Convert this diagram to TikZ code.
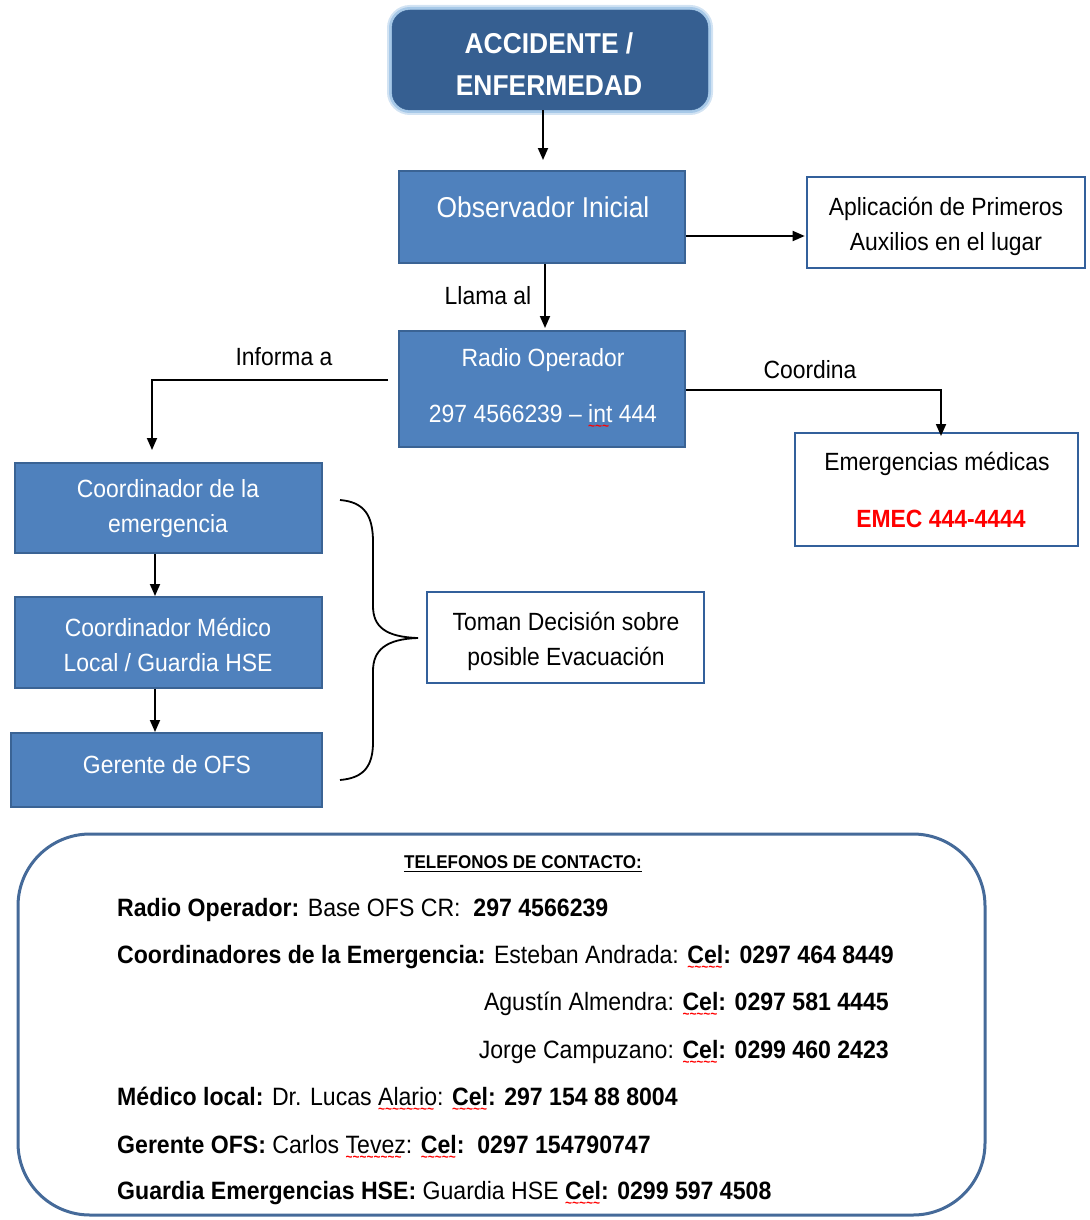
\documentclass[tikz,border=0pt]{standalone}
\usepackage{fontspec}
\setmainfont[FakeStretch=0.92]{Liberation Sans}
\usetikzlibrary{arrows.meta,calc}

\definecolor{accfill}{HTML}{365F91}
\definecolor{accglow}{HTML}{9CC2E5}
\definecolor{boxfill}{HTML}{4F81BD}
\definecolor{boxedge}{HTML}{3A6394}
\definecolor{wedge}{HTML}{33609B}
\definecolor{cardedge}{HTML}{456A99}
\definecolor{emecred}{HTML}{FF0000}

% red squiggle under a word, made of small tildes
\newcommand\redwave[1]{\setbox0\hbox{#1}\leavevmode
  \rlap{\raisebox{-8pt}[0pt][0pt]{\hbox to \wd0{\color{emecred}\normalfont\bfseries\fontsize{13}{13}\selectfont\leaders\hbox{\char`\~}\hfill}}}\box0\relax}

\tikzset{
  bluebox/.style={draw=boxedge, fill=boxfill, line width=2pt, inner sep=0pt},
  whitebox/.style={draw=wedge, fill=white, line width=2.6pt, inner sep=0pt},
  wtxt/.style={text=white, align=center, inner sep=0pt, font=\fontsize{24.9}{35}\selectfont},
  btxt/.style={text=black, align=center, inner sep=0pt, font=\fontsize{24.9}{35}\selectfont},
  linetxt/.style={text=black, inner sep=0pt, text height=18pt, text depth=5pt, font=\fontsize{25.1}{30}\selectfont},
  flow/.style={-{Triangle[length=12pt,width=10pt]}, line width=1.8pt},
}

\begin{document}
\begin{tikzpicture}[x=1pt,y=-1pt]
\useasboundingbox (0,0) rectangle (1089,1220);

% top event with its soft halo
\draw[accglow, line width=10pt, rounded corners=18pt, opacity=0.45] (392,10) rectangle (708,110);
\draw[accglow, line width=6pt, rounded corners=18pt, opacity=0.8] (392,10) rectangle (708,110);
\node[fill=accfill, draw=accfill, rounded corners=18pt, minimum width=316pt, minimum height=100pt, inner sep=0pt] (acc) at (550,60) {};
\node[wtxt, font=\bfseries\fontsize{28.7}{42}\selectfont] (acc-t) at (549,64) {ACCIDENTE /\\ENFERMEDAD};

% main boxes
\node[bluebox, minimum width=286pt, minimum height=92pt] (obs) at (542,217) {};
\node[wtxt, font=\fontsize{28.7}{35}\selectfont] (obs-t) at (543,207) {Observador Inicial};

\node[whitebox, minimum width=278pt, minimum height=91pt] (apl) at (946,222.5) {};
\node[btxt] (apl-t) at (946,226) {Aplicación de Primeros\\Auxilios en el lugar};

\node[bluebox, minimum width=286pt, minimum height=116pt] (radio) at (542,389) {};
\node[wtxt] (radio-t1) at (543,360) {Radio Operador};
\node[wtxt] (radio-t2) at (543,414) {297 4566239 – \redwave{int} 444};

\node[whitebox, minimum width=283pt, minimum height=113pt] (emer) at (936.5,489.5) {};
\node[btxt] (emer-t1) at (937,464) {Emergencias médicas};
\node[btxt, text=emecred, font=\bfseries\fontsize{24.9}{35}\selectfont] (emer-t2) at (941,519) {EMEC 444-4444};

\node[bluebox, minimum width=307pt, minimum height=90pt] (c1) at (168.5,508) {};
\node[wtxt] (c1-t) at (168,509) {Coordinador de la\\emergencia};

\node[bluebox, minimum width=307pt, minimum height=91pt] (c2) at (168.5,642.5) {};
\node[wtxt] (c2-t) at (168,645) {Coordinador Médico\\Local / Guardia HSE};

\node[bluebox, minimum width=311pt, minimum height=74pt] (ger) at (166.5,770) {};
\node[wtxt] (ger-t) at (167,765) {Gerente de OFS};

\node[whitebox, minimum width=277pt, minimum height=91pt] (toman) at (565.5,637.5) {};
\node[btxt] (toman-t) at (566,641) {Toman Decisión sobre\\posible Evacuación};

% connector labels
\node[btxt] (l-llama) at (488,296) {Llama al};
\node[btxt] (l-informa) at (284,357) {Informa a};
\node[btxt] (l-coord) at (810,370) {Coordina};

% connectors
\coordinate (accout) at (543,160);
\draw[flow] (acc.south -| accout) -- (accout);
\draw[flow, shorten >=1pt] (obs.east |- 0,236) -- (apl.west |- 0,236);
\draw[flow, shorten >=2pt] (obs.south -| 545,0) -- (radio.north -| 545,0);
\coordinate (infstart) at (388,380);
\coordinate (infend) at (152,450);
\draw[flow] (infstart) -| (infend);
\coordinate (coordend) at (941,436);
\draw[flow] (radio.east |- 0,390) -| (coordend);
\draw[flow] (c1.south -| 155,0) -- (c2.north -| 155,0);
\draw[flow] (c2.south -| 155,0) -- (ger.north -| 155,0);

% brace grouping the three roles
\draw[line width=1.8pt] (340,500) .. controls (364,502) and (373,515) .. (373,542)
  -- (373,606) .. controls (373,627) and (386,637) .. (418,638)
  .. controls (386,639) and (373,650) .. (373,671)
  -- (373,742) .. controls (373,766) and (364,778) .. (340,780);

% contact card
\draw[cardedge, line width=3pt, rounded corners=72pt] (18,834) rectangle (985,1215);
\node[text=black, inner sep=0pt, text height=13pt, text depth=3pt, font=\bfseries\fontsize{18.5}{22}\selectfont] (card-title) at (523,863) {TELEFONOS DE CONTACTO:};
\draw[line width=1.4pt] (card-title.south west) -- (card-title.south east);

\node[linetxt, anchor=west] (ln1) at (117,910) {\textbf{Radio Operador:} Base OFS CR:\ \ \textbf{297 4566239}};
\node[linetxt, anchor=west] (ln2) at (117,957) {\textbf{Coordinadores de la Emergencia:} Esteban Andrada: \textbf{\redwave{Cel}: 0297 464 8449}};
\node[linetxt, anchor=east] (ln3) at (889,1004) {Agustín Almendra: \textbf{\redwave{Cel}: 0297 581 4445}};
\node[linetxt, anchor=east] (ln4) at (889,1052) {Jorge Campuzano: \textbf{\redwave{Cel}: 0299 460 2423}};
\node[linetxt, anchor=west] (ln5) at (117,1099) {\textbf{Médico local:} Dr. Lucas \redwave{Alario}: \textbf{\redwave{Cel}: 297 154 88 8004}};
\node[linetxt, anchor=west] (ln6) at (117,1147) {\textbf{Gerente OFS:} Carlos \redwave{Tevez}: \textbf{\redwave{Cel}:\ \ 0297 154790747}};
\node[linetxt, anchor=west] (ln7) at (117,1193) {\textbf{Guardia Emergencias HSE:} Guardia HSE \textbf{\redwave{Cel}: 0299 597 4508}};
\end{tikzpicture}
\end{document}
